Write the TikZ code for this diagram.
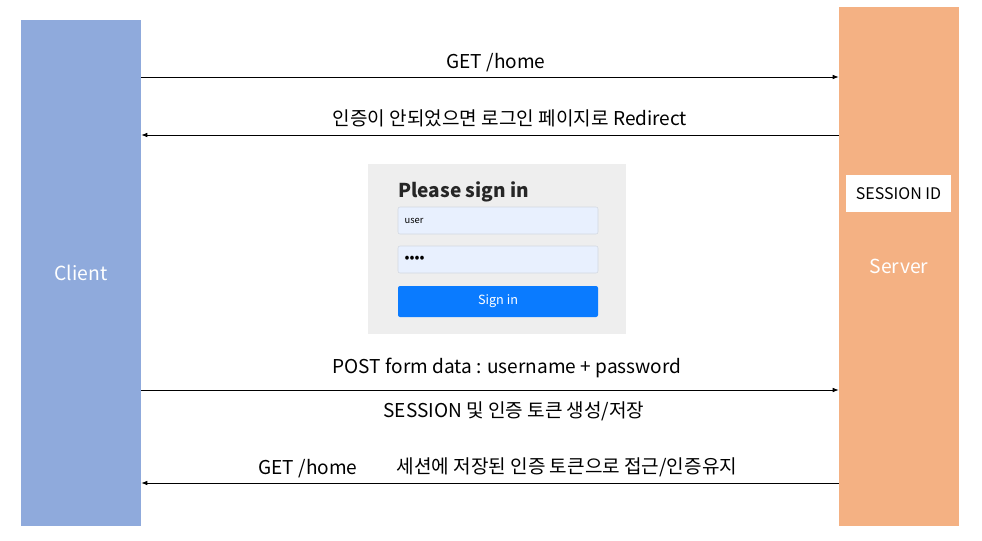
\documentclass[tikz,border=0pt]{standalone}
\usepackage{fontspec}
\setmainfont{Noto Sans CJK KR}
\usetikzlibrary{
	positioning,   %定位
	arrows.meta    %箭头
}
\definecolor{clientblue}{HTML}{8FAADC}
\definecolor{serverorange}{HTML}{F4B183}
\definecolor{formgray}{HTML}{EEEEEE}
\definecolor{fieldblue}{HTML}{E8F0FE}
\definecolor{fieldline}{HTML}{D2D8E0}
\definecolor{btnblue}{HTML}{0A7BFF}
\tikzset{
	every picture/.style={
		>={Latex[length=4.5pt,width=3.5pt]},
		x=0.75pt, y=-0.75pt
	},
	lane/.style={rectangle, minimum width=90pt, text=white,
		font=\fontsize{14.5}{17}\selectfont},
	msg/.style={font=\fontsize{14.3}{17}\selectfont, inner sep=0pt},
	field/.style={rectangle, rounded corners=1.5pt, draw=fieldline, fill=fieldblue,
		minimum width=150pt, minimum height=20.25pt, text width=140pt, inner xsep=5pt,
		align=left},
	flow/.style={->, line width=0.75pt}
}

\begin{document}
\begin{tikzpicture}
\useasboundingbox (0,0) rectangle (982,540);
% 两侧
\node[lane, fill=clientblue, minimum height=379.5pt] (client) at (81,273) {Client};
\node[lane, fill=serverorange, minimum height=389.25pt] (server) at (899,266.5) {Server};
\node[fill=white, minimum width=78.75pt, minimum height=27.75pt,
	font=\fontsize{12}{14}\selectfont] (sessionid) at (898.5,193.5) {SESSION ID};
% 登录框
\node[fill=formgray, minimum width=193.5pt, minimum height=127.5pt] (loginbox) at (497,249) {};
\node[field, font=\fontsize{7}{8}\selectfont] (userfield) at (498,220.5) {user};
\node[field, font=\fontsize{11}{12}\selectfont] (passfield) at (498,259.5) {••••};
\node[rectangle, rounded corners=1.5pt, fill=btnblue, text=white, minimum width=150pt,
	minimum height=23.25pt, font=\fontsize{9.5}{11}\selectfont] (signin) at (498,301.5) {Sign in};
\node[anchor=west, inner sep=0pt, text=black!85, font=\fontsize{14.3}{17}\selectfont\bfseries] (title) at (398,191.5) {Please sign in};
% 消息
\draw[flow] (client.east |- 0,77) -- (server.west |- 0,77);
\node[msg] (gethome) at (496,62.5) {GET /home};
\draw[flow] (server.west |- 0,135) -- (client.east |- 0,135);
\node[msg] (redirect) at (510,118.5) {인증이 안되었으면 로그인 페이지로 Redirect};
\draw[flow] (client.east |- 0,390) -- (server.west |- 0,390);
\node[msg] (post) at (507,367.5) {POST form data : username + password};
\node[msg] (save) at (514,411.5) {SESSION 및 인증 토큰 생성/저장};
\draw[flow] (server.west |- 0,483) -- (client.east |- 0,483);
\node[msg] (getagain) at (308,468.5) {GET /home};
\node[msg] (keep) at (567,467.5) {세션에 저장된 인증 토큰으로 접근/인증유지};
\end{tikzpicture}
\end{document}
